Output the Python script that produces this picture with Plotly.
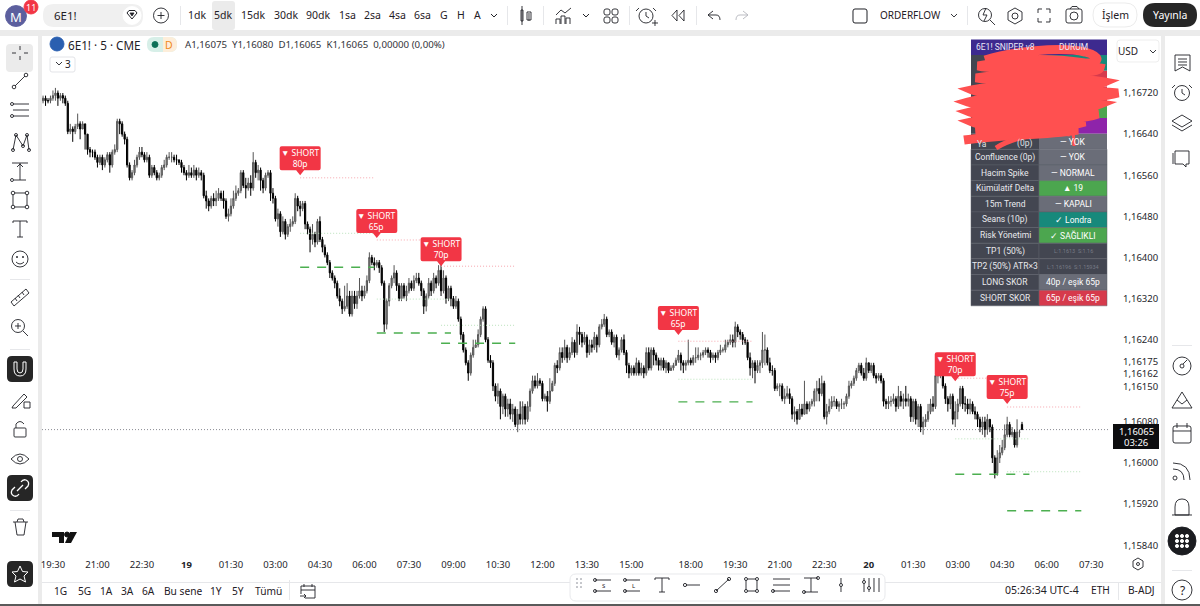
import re
import plotly.graph_objects as go

# ---- chart values (prices as 1.xxxxx, stored in 1e-5 above 1.0) ----
opens = [
16705,16710,16705,16705,16710,16715,16720,16710,16715,16710,
16700,16645,16650,16645,16655,16660,16650,16660,16640,16610,
16605,16605,16595,16585,16595,16580,16590,16600,16580,16605,
16610,16665,16660,16640,16630,16580,16555,16565,16580,16595,
16605,16600,16590,16595,16560,16575,16565,16555,16560,16575,
16580,16595,16595,16595,16590,16590,16585,16575,16565,16560,
16565,16560,16570,16560,16565,16560,16520,16510,16500,16515,
16510,16515,16525,16515,16510,16480,16485,16500,16515,16525,
16530,16565,16540,16535,16545,16535,16585,16565,16570,16550,
16535,16560,16565,16525,16515,16475,16485,16450,16470,16445,
16460,16465,16470,16515,16500,16495,16505,16465,16455,16435,
16445,16430,16470,16435,16420,16405,16390,16370,16360,16350,
16325,16315,16300,16305,16325,16290,16325,16310,16325,16335,
16325,16335,16355,16400,16390,16385,16390,16380,16350,16270,
16315,16345,16360,16370,16345,16320,16345,16325,16335,16350,
16340,16355,16360,16350,16335,16305,16325,16350,16335,16360,
16350,16375,16335,16360,16320,16340,16320,16305,16315,16280,
16250,16220,16195,16175,16210,16225,16230,16250,16280,16300,
16240,16200,16195,16150,16130,16140,16110,16130,16105,16115,
16095,16105,16075,16095,16085,16110,16085,16110,16140,16160,
16150,16160,16155,16125,16130,16120,16140,16155,16190,16185,
16215,16205,16225,16205,16215,16235,16215,16255,16250,16235,
16245,16215,16230,16225,16245,16230,16265,16270,16280,16250,
16255,16235,16245,16210,16220,16240,16215,16190,16175,16185,
16175,16195,16175,16185,16175,16215,16185,16220,16210,16200,
16190,16200,16185,16195,16180,16185,16190,16200,16210,16195,
16190,16195,16200,16195,16205,16205,16210,16210,16215,16220,
16215,16205,16210,16205,16215,16220,16220,16230,16235,16240,
16235,16265,16255,16250,16240,16235,16205,16185,16195,16180,
16190,16195,16220,16220,16195,16180,16180,16145,16150,16150,
16125,16130,16135,16125,16095,16100,16085,16105,16095,16115,
16105,16115,16120,16140,16145,16135,16155,16090,16100,16110,
16120,16120,16110,16115,16115,16115,16130,16150,16155,16165,
16180,16190,16175,16165,16195,16180,16190,16170,16165,16170,
16160,16120,16115,16120,16120,16125,16110,16130,16120,16125,
16120,16125,16090,16120,16085,16110,16070,16080,16085,16100,
16115,16110,16170,16170,16185,16150,16125,16115,16130,16085,
16100,16115,16145,16115,16115,16105,16115,16100,16095,16085,
16070,16080,16065,16085,16070,16010,15980,16010,16020,16030,
16055,16075,16055,16060,16035,16060,16075]
highs = [
16715,16715,16710,16715,16725,16730,16725,16720,16720,16715,
16705,16660,16655,16660,16680,16665,16665,16660,16640,16615,
16610,16610,16600,16600,16600,16595,16605,16605,16610,16620,
16670,16670,16665,16645,16635,16585,16570,16590,16600,16615,
16615,16605,16605,16600,16580,16580,16570,16565,16580,16590,
16600,16605,16605,16600,16600,16590,16590,16580,16570,16580,
16575,16580,16575,16575,16570,16565,16530,16515,16520,16525,
16530,16535,16530,16530,16515,16495,16515,16530,16540,16535,
16570,16570,16555,16555,16560,16605,16590,16580,16575,16555,
16565,16570,16570,16535,16520,16495,16490,16480,16475,16465,
16475,16480,16525,16520,16510,16510,16510,16470,16460,16465,
16450,16475,16480,16440,16425,16410,16395,16375,16365,16355,
16340,16320,16345,16350,16335,16335,16335,16335,16360,16345,
16345,16365,16410,16405,16400,16395,16395,16385,16355,16320,
16350,16365,16385,16375,16350,16350,16350,16345,16360,16355,
16365,16370,16370,16355,16340,16330,16360,16355,16370,16365,
16385,16385,16375,16365,16345,16345,16325,16325,16320,16285,
16255,16225,16200,16215,16240,16240,16260,16285,16305,16305,
16245,16210,16200,16155,16155,16145,16135,16135,16125,16125,
16115,16110,16105,16120,16120,16115,16120,16145,16170,16170,
16175,16165,16160,16135,16140,16165,16160,16195,16200,16225,
16225,16240,16230,16225,16245,16240,16270,16265,16255,16255,
16250,16240,16240,16255,16250,16270,16280,16290,16285,16260,
16260,16250,16250,16225,16245,16250,16220,16195,16190,16190,
16205,16200,16195,16190,16225,16225,16225,16225,16215,16205,
16205,16205,16200,16195,16190,16195,16205,16220,16215,16200,
16200,16240,16205,16210,16225,16225,16215,16220,16225,16225,
16220,16215,16215,16220,16230,16225,16240,16240,16250,16250,
16275,16270,16260,16255,16245,16240,16215,16200,16200,16200,
16200,16255,16250,16225,16205,16190,16185,16155,16155,16155,
16145,16150,16145,16130,16110,16105,16115,16115,16160,16120,
16120,16125,16145,16160,16165,16170,16160,16115,16125,16130,
16130,16125,16120,16125,16120,16135,16160,16160,16170,16185,
16195,16195,16185,16205,16195,16195,16195,16175,16175,16175,
16165,16125,16130,16130,16135,16130,16150,16140,16135,16150,
16135,16130,16125,16125,16115,16115,16090,16095,16115,16125,
16130,16175,16190,16210,16195,16155,16130,16135,16135,16120,
16125,16150,16150,16130,16125,16125,16120,16110,16100,16090,
16090,16090,16095,16085,16075,16015,16025,16035,16045,16075,
16090,16080,16070,16065,16085,16065,16080]
lows = [
16700,16695,16700,16700,16705,16705,16695,16705,16700,16695,
16640,16640,16625,16640,16650,16630,16650,16610,16600,16595,
16595,16590,16575,16580,16570,16575,16585,16565,16575,16600,
16605,16640,16635,16620,16575,16550,16550,16560,16575,16590,
16595,16585,16585,16555,16555,16560,16550,16550,16555,16570,
16575,16590,16585,16585,16580,16580,16565,16560,16550,16555,
16555,16555,16550,16555,16550,16515,16495,16490,16495,16500,
16500,16510,16510,16495,16475,16470,16480,16495,16510,16520,
16525,16535,16515,16530,16520,16530,16555,16550,16530,16525,
16530,16555,16510,16505,16470,16460,16440,16445,16435,16440,
16450,16460,16465,16490,16480,16490,16455,16445,16410,16425,
16420,16425,16430,16410,16400,16385,16360,16355,16340,16320,
16305,16290,16295,16300,16285,16285,16300,16300,16320,16315,
16320,16330,16350,16385,16375,16380,16370,16345,16255,16260,
16305,16340,16350,16335,16315,16315,16320,16315,16330,16335,
16335,16350,16345,16325,16290,16295,16320,16325,16330,16340,
16345,16325,16330,16310,16315,16305,16300,16300,16275,16240,
16215,16190,16160,16170,16205,16225,16225,16245,16275,16235,
16195,16185,16140,16120,16115,16085,16095,16090,16090,16085,
16080,16070,16060,16075,16075,16075,16080,16100,16135,16145,
16145,16150,16120,16120,16100,16115,16150,16150,16175,16180,
16195,16200,16195,16200,16210,16205,16210,16230,16225,16230,
16205,16210,16215,16220,16215,16225,16260,16265,16245,16245,
16230,16225,16205,16200,16215,16210,16175,16165,16170,16170,
16170,16170,16170,16165,16170,16180,16180,16190,16190,16180,
16180,16180,16175,16175,16180,16180,16190,16195,16180,16175,
16180,16190,16190,16190,16195,16200,16200,16205,16210,16205,
16195,16200,16195,16200,16210,16215,16215,16225,16230,16225,
16225,16245,16240,16230,16230,16200,16170,16165,16155,16175,
16175,16185,16190,16190,16175,16170,16140,16140,16130,16120,
16115,16125,16115,16085,16080,16075,16085,16090,16095,16095,
16100,16110,16110,16120,16120,16130,16085,16075,16095,16105,
16110,16105,16100,16105,16105,16110,16125,16145,16150,16160,
16175,16170,16160,16160,16175,16175,16165,16155,16160,16155,
16110,16105,16105,16110,16115,16100,16105,16110,16105,16110,
16110,16080,16080,16075,16070,16060,16055,16070,16080,16095,
16100,16105,16155,16165,16145,16115,16100,16105,16075,16070,
16085,16110,16105,16100,16095,16095,16095,16085,16070,16060,
16055,16050,16055,16060,16000,15970,15975,16000,16015,16025,
16050,16050,16050,16030,16030,16050,16065]
closes = [
16710,16705,16705,16710,16715,16720,16710,16715,16710,16700,
16645,16650,16645,16655,16660,16650,16660,16640,16610,16605,
16605,16595,16585,16595,16580,16590,16600,16580,16605,16610,
16665,16660,16640,16630,16580,16555,16565,16580,16595,16605,
16600,16590,16595,16560,16575,16565,16555,16560,16575,16580,
16595,16595,16595,16590,16590,16585,16575,16565,16560,16565,
16560,16570,16560,16565,16560,16520,16510,16500,16515,16510,
16515,16525,16515,16510,16480,16485,16500,16515,16525,16530,
16565,16540,16535,16545,16535,16585,16565,16570,16550,16535,
16560,16565,16525,16515,16475,16485,16450,16470,16445,16460,
16465,16470,16515,16500,16495,16505,16465,16455,16435,16445,
16430,16470,16435,16420,16405,16390,16370,16360,16350,16325,
16315,16300,16305,16325,16290,16325,16310,16325,16335,16325,
16335,16355,16400,16390,16385,16390,16380,16350,16270,16315,
16345,16360,16370,16345,16320,16345,16325,16335,16350,16340,
16355,16360,16350,16335,16305,16325,16350,16335,16360,16350,
16375,16335,16360,16320,16340,16320,16305,16315,16280,16250,
16220,16195,16175,16210,16225,16230,16250,16280,16300,16240,
16200,16195,16150,16130,16140,16110,16130,16105,16115,16095,
16105,16075,16095,16085,16110,16085,16110,16140,16160,16150,
16160,16155,16125,16130,16120,16140,16155,16190,16185,16215,
16205,16225,16205,16215,16235,16215,16255,16250,16235,16245,
16215,16230,16225,16245,16230,16265,16270,16280,16250,16255,
16235,16245,16210,16220,16240,16215,16190,16175,16185,16175,
16195,16175,16185,16175,16215,16185,16220,16210,16200,16190,
16200,16185,16195,16180,16185,16190,16200,16210,16195,16190,
16195,16200,16195,16205,16205,16210,16210,16215,16220,16215,
16205,16210,16205,16215,16220,16220,16230,16235,16240,16235,
16265,16255,16250,16240,16235,16205,16185,16195,16180,16190,
16195,16220,16220,16195,16180,16180,16145,16150,16150,16125,
16130,16135,16125,16095,16100,16085,16105,16095,16115,16105,
16115,16120,16140,16145,16135,16155,16090,16100,16110,16120,
16120,16110,16115,16115,16115,16130,16150,16155,16165,16180,
16190,16175,16165,16195,16180,16190,16170,16165,16170,16160,
16120,16115,16120,16120,16125,16110,16130,16120,16125,16120,
16125,16090,16120,16085,16110,16070,16080,16085,16100,16115,
16110,16170,16170,16185,16150,16125,16115,16130,16085,16100,
16115,16145,16115,16115,16105,16115,16100,16095,16085,16070,
16080,16065,16085,16070,16010,15980,16010,16020,16030,16055,
16075,16055,16060,16035,16060,16060,16065]

time_tick_bars = [5,23,41,59,77,95,113,131,149,167,185,203,221,239,263,281,299,317,335,353,371,389,407,425]
time_tick_text = ["19:30","21:00","22:30","<b>19</b>","01:30","03:00","04:30","06:00","07:30","09:00","10:30","12:00",
                  "13:30","15:00","18:00","19:30","21:00","22:30","<b>20</b>","01:30","03:00","04:30","06:00","07:30"]
price_tick_vals = [16720,16640,16560,16480,16400,16320,16240,16080,16000,15920,15840]
signal_bar   = [105,136,162,258,370,391]
signal_score = [80,65,70,65,70,75]
signal_tip   = [16560,16438,16383,16249,16159,16115]
stop_level   = [16555,16434,16383,16237,16165,16109]
tp1_level    = [16447,16319,16268,16163,16047,15983]
tp2_level    = [16381,16253,16233,16119,15978,15907]
level_span = 30
last_price = 16065

table_rows = ["Confluence (0p)","Hacim Spike","Kümülatif Delta","15m Trend","Seans (10p)","Risk Yönetimi",
              "TP1 (50%)","TP2 (50%) ATR×3","LONG SKOR","SHORT SKOR"]
table_vals = ["— YOK","— NORMAL","▲ 19","— KAPALI","✓ Londra","✓ SAĞLIKLI",
              "L:1.1613  S:1.16","L:1.16196  S:1.15934","40p / eşik 65p","65p / eşik 65p"]
table_cols = ["#6a6d78","#6a6d78","#4ca64f","#6a6d78","#17897b","#4ca64f","#434651","#434651","#6a6d78","#d63a4c"]
intervals = ["1dk","5dk","15dk","30dk","90dk","1sa","2sa","4sa","6sa","G","H","A"]
ranges = ["1G","5G","1A","3A","6A","Bu sene","1Y","5Y","Tümü"]

assert len(opens)==len(highs)==len(lows)==len(closes), (len(opens),len(highs),len(lows),len(closes))

W, H = 1200, 606
FONT = "Noto Sans"
INK = "#1f2026"
GAP = "#ebebeb"
def price(v): return 1 + v * 1e-5
def X(p): return p / W
def Y(p): return 1 - p / H

shapes, notes = [], []

def path_px(d):
    toks = re.findall(r"[A-Za-z]|-?\d+\.?\d*", d)
    out, is_x = [], True
    for t in toks:
        if t.isalpha():
            out.append(t); is_x = True
        else:
            out.append(f"{X(float(t)):.5f}" if is_x else f"{Y(float(t)):.5f}")
            is_x = not is_x
    return " ".join(out)
def P(d, color=INK, w=0.9, fill=None, layer="above"):
    s = dict(type="path", xref="paper", yref="paper", path=path_px(d), layer=layer, line=dict(color=color, width=w))
    if fill: s["fillcolor"] = fill
    if w == 0: s["line"] = dict(width=0)
    shapes.append(s)
def R(x0,y0,x1,y1,fill=None,color=None,w=0,layer="above"):
    s = dict(type="rect", xref="paper", yref="paper", x0=X(x0), x1=X(x1), y0=Y(y0), y1=Y(y1), layer=layer, line=dict(width=w, color=color or "rgba(0,0,0,0)"))
    if fill: s["fillcolor"] = fill
    shapes.append(s)
def RR(x0,y0,x1,y1,r,fill=None,color=None,w=0,layer="above"):
    d = (f"M {x0+r} {y0} L {x1-r} {y0} Q {x1} {y0} {x1} {y0+r} L {x1} {y1-r} Q {x1} {y1} {x1-r} {y1} "
         f"L {x0+r} {y1} Q {x0} {y1} {x0} {y1-r} L {x0} {y0+r} Q {x0} {y0} {x0+r} {y0} Z")
    P(d, color or "rgba(0,0,0,0)", w, fill, layer)
def C(cx,cy,r,fill=None,color=INK,w=0.9):
    s = dict(type="circle", xref="paper", yref="paper", x0=X(cx-r), x1=X(cx+r), y0=Y(cy-r), y1=Y(cy+r), layer="above",
             line=dict(color=color, width=w))
    if fill: s["fillcolor"] = fill
    shapes.append(s)
def T(x,y,text,size=11,color=INK,anchor="center",family=FONT):
    notes.append(dict(xref="paper", yref="paper", x=X(x), y=Y(y), text=text, showarrow=False, xanchor=anchor, yanchor="middle",
                      font=dict(size=size, color=color, family=family), borderpad=0))

# ---- page structure ----
R(0,30,W,36,GAP,layer="below")
R(38,36,42,H,GAP,layer="below")
R(1161,36,1165,H,GAP,layer="below")
R(42,582,1161,583,"#e6e7ea",layer="below")
R(0,604,W,606,"#5a5a5a")

# ---- top toolbar ----
C(16,16,10.5,"#5c5f9e","#5c5f9e"); T(16,16.5,"M",13,"#ffffff")
C(31,7,7,"#f23645","#f23645"); T(31,7.5,"11",9,"#ffffff")
RR(43,4,143,27,11,"#f0f0f0")
T(53,15.5,"6E1!",11.5,INK,"left")
C(132,15.5,9,"#ffffff","#ffffff")
P("M 127 13 L 129 10.5 L 135 10.5 L 137 13 L 132 19 Z",INK,1); P("M 130 13 L 134 13 L 132 16 Z",INK,0.8,INK)
C(161,15.5,7.5); P("M 157.5 15.5 L 164.5 15.5 M 161 12 L 161 19")
R(180,6,181,25,"#e6e7ea")
RR(212,1,235,30,3,"#ebebeb")
for lab,x in zip(intervals,[197,223,253,286,318,347,372,397,422,444,461,477]):
    T(x,15.5,lab,10.5)
P("M 491 14 L 494 17 L 497 14",INK,1)
R(507,6,508,25,"#e6e7ea")
P("M 523 10 L 523 21 L 521 21 L 521 10 Z M 522 6 L 522 25 M 529 13 L 529 21 M 527 12 L 531 12 L 531 20 L 527 20 Z")
R(543,6,544,25,"#e6e7ea")
P("M 556 15 L 561 10 L 565 13 L 571 8 M 556 24 L 556 19 L 560 19 L 560 24 M 561 24 L 561 16 L 565 16 L 565 24 M 566 24 L 566 18 L 570 18 L 570 24")
P("M 583 14 L 586 17 L 589 14",INK,1)
for xx in (605,613):
    for yy in (10,18):
        RR(xx-1,yy-1,xx+5,yy+5,2,None,INK,0.9)
R(629,6,630,25,"#e6e7ea")
C(646,16,7); P("M 646 12 L 646 16 L 649 18 M 639 8 L 636 11 M 653 8 L 656 11 M 652 23 L 658 23 M 655 20 L 655 26")
P("M 677 10 L 672 15.5 L 677 21 Z M 684 10 L 679 15.5 L 684 21 Z")
R(696,6,697,25,"#e6e7ea")
P("M 713 11 L 708 15 L 713 19 M 708 15 L 716 15 Q 720 15 720 20",INK)
P("M 743 11 L 748 15 L 743 19 M 748 15 L 740 15 Q 736 15 736 20","#b4b6bc")
RR(853,9,867,23,2,None,INK,1)
T(910,15.5,"ORDERFLOW",10)
P("M 951 14 L 954 17 L 957 14")
R(967,6,968,25,"#e6e7ea")
C(985,15,6.5); P("M 990 20 L 995 25 M 986 8 L 983 15 L 987 15 L 984 21")
P("M 1015 8 L 1022 12 L 1022 20 L 1015 24 L 1008 20 L 1008 12 Z"); C(1015,16,3)
P("M 1038 13 L 1038 9 L 1042 9 M 1046 9 L 1050 9 L 1050 13 M 1050 18 L 1050 22 L 1046 22 M 1042 22 L 1038 22 L 1038 18")
RR(1066,9,1082,23,2,None,INK,0.9); C(1074,16,4); P("M 1070 9 L 1072 6.5 L 1077 6.5 L 1079 9")
RR(1093,3,1137,27,12,"#ffffff","#ececec",1)
T(1115,15.5,"İşlem",10.5)
RR(1143,3,1197,27,12,"#262626")
T(1170,15.5,"Yayınla",10.5,"#ffffff")

# ---- legend row ----
C(57,44,7,"#2a5fb0","#2a5fb0")
T(67,44.5,"6E1! · 5 · CME",11.7,INK,"left")
RR(147,37,177,52,7,"#d7efe8"); P("M 163 37 L 170 37 Q 177 37 177 44 L 177 45 Q 177 52 170 52 L 163 52 Z","rgba(0,0,0,0)",0,"#fdeeda")
C(155,44.5,3,"#0c6f57","#0c6f57"); T(169,44.5,"D",10.5,"#f08a1d")
T(184,44.5,"A1,16075  Y1,16080  D1,16065  K1,16065  0,00000 (0,00%)",9.7,"#33343a","left")
RR(50,57,75,72,2,"#ffffff","#e3e4e8",1)
P("M 56 62 L 59 65 L 62 62"); T(68,64.5,"3",10)

# ---- signal table ----
ROW = 15.65
TF = "Roboto"
R(971,39.5,1107,55,"#3d2a8f")
R(971,55,1039,133.7,"#434651")
for y0,col in zip((55,70.7,86.7,102.3,118),("#17897b","#d63a4c","#d63a4c","#4ca64f","#8e24aa")):
    R(1039,y0,1107,y0+15.8,col)
R(971,133.7,1039,149.3,"#434651"); R(1039,133.7,1107,149.3,"#6a6d78")
T(1005,47,"6E1! SNIPER v8",8.5,"#e8e6f5",family=TF); T(1073,47,"DURUM",8.5,"#e8e6f5",family=TF)
T(1033,143.5,"(0p)",8.5,"#dfe0e4","right",TF)
T(982,143.5,"Ya",8.5,"#dfe0e4",family=TF)
T(1073,142,"— YOK",8.5,"#ffffff",family=TF)
for k,(lab,val,col) in enumerate(zip(table_rows,table_vals,table_cols)):
    y0 = 149.3 + k*ROW
    R(971,y0,1039,y0+ROW,"#434651","#5d606b",0.5)
    R(1039,y0,1107,y0+ROW,col,"#5d606b",0.5)
    T(1005,y0+ROW/2,lab,8.5,"#e9eaee",family=TF)
    faint = lab.startswith("TP")
    T(1073,y0+ROW/2,val,5.5 if faint else 8.5,"#777a85" if faint else "#ffffff",family=TF)

# ---- red scribble over the table ----
SCR = "#ff5050"
P("M 985 60 C 1010 52 1060 46 1085 52 C 1100 56 1102 62 1085 63 C 1050 58 1020 58 978 66 "
  "C 1000 72 1060 62 1100 68 C 1098 76 1030 70 976 78 C 1000 84 1060 74 1104 82 "
  "C 1080 92 1020 80 972 90 C 990 98 1060 86 1106 92 L 1118 93 C 1090 102 1010 90 968 102 "
  "C 990 110 1060 98 1100 104 C 1075 114 1010 102 970 112 C 990 120 1050 108 1098 114 "
  "C 1070 124 1010 114 972 122 C 990 130 1050 118 1085 122 C 1050 132 1010 124 976 132 "
  "C 1000 134 1040 126 1078 130 C 1040 136 1005 134 964 140",SCR,9,None)
P("M 1073 128 L 1074 146",SCR,3)
P("M 996 148 C 1015 136 1050 130 1070 134",SCR,5)

# ---- USD ----
RR(1117,40,1159,62,3,"#ffffff","#eeeeee",1)
T(1128,51,"USD",10); P("M 1150 50 L 1153 53 L 1156 50")

# ---- extra price labels (squeezed by the price scale) ----
for txt,yy in (("1,16175",361),("1,16162",373.5),("1,16150",386)):
    T(1122,yy,txt,9.5,"#24252b","left")

# ---- price tag ----
R(1113,424,1159,449,"#0d0d0f")
T(1136,431,"1,16065",9.5,"#ffffff"); T(1136,442.5,"03:26",9.5,"#ffffff")

# ---- TradingView logo ----
P("M 52 532 L 64 532 L 64 543 L 59 543 L 59 537 L 52 537 Z",INK,0,"#111111")
C(67,534.5,2.5,"#111111","#111111")
P("M 70 532 L 77 532 L 71 543 L 65 543 Z",INK,0,"#111111")

# ---- left toolbar ----
RR(6,44,33,72,4,"#ebebeb")
P("M 20 46 L 20 50 M 20 56 L 20 60 M 12 53 L 16 53 M 24 53 L 28 53")
P("M 15 86 L 25 76"); C(14,87,1.8); C(26,75,1.8)
P("M 13 104 L 29 104 M 13 110 L 29 110 M 13 116 L 29 116"); C(12,104,1.5); C(12,116,1.5)
P("M 13 150 L 16 135 L 23 146 L 27 135 L 29 150"); C(13,150,1.5); C(16,135,1.5); C(23,146,1.5); C(27,135,1.5); C(29,150,1.5)
P("M 12 163 L 28 163 M 20 163 L 20 180 M 14 180 L 26 180 M 17 167 L 20 164 L 23 167"); C(12,180,1.5)
P("M 13 193 L 27 193 L 27 207 L 13 207 Z"); C(13,193,1.8,"#ffffff"); C(27,193,1.8,"#ffffff"); C(13,207,1.8,"#ffffff"); C(27,207,1.8,"#ffffff")
P("M 13 223 L 13 221 L 27 221 L 27 223 M 20 221 L 20 237 M 17 237 L 23 237")
C(20,259,8); C(17,257,0.6,INK); C(23,257,0.6,INK); P("M 16 262 Q 20 266 24 262")
P("M 11 302 L 26 289 L 29 293 L 14 306 Z M 15 298 L 17 301 M 18 295 L 20 298 M 22 292 L 24 295")
C(18,326,6.5); P("M 23 331 L 28 336 M 15 326 L 21 326 M 18 323 L 18 329")
RR(7,356,33,382,5,"#262626")
P("M 14 362 L 14 369 Q 14 376 20 376 Q 26 376 26 369 L 26 362 L 23 362 L 23 369 Q 23 373 20 373 Q 17 373 17 369 L 17 362 Z","#ffffff",1)
P("M 13 406 L 24 394 L 27 397 L 16 408 L 12 408 Z"); P("M 24 402 L 30 402 L 30 408 L 24 408 Z")
RR(14,428,26,437,1,None,INK,0.9); P("M 16 428 L 16 424 Q 20 419 24 424")
P("M 11 459 Q 20 449 29 459 Q 20 469 11 459 Z"); C(20,459,2.5)
RR(7,475,33,501,5,"#262626")
P("M 17 491 L 23 485 M 15 487 L 12 490 Q 10 494 14 496 Q 17 497 19 494 M 25 489 L 28 486 Q 30 482 26 480 Q 23 479 21 482","#ffffff",1.3)
R(10,279,30,280,"#e6e7ea"); R(10,349,30,350,"#e6e7ea"); R(10,510,30,511,"#e6e7ea")
P("M 15 522 L 17 535 L 24 535 L 26 522 M 13 522 L 28 522 M 17 522 L 18 519 L 23 519 L 24 522")
RR(7,561,33,587,5,"#262626")
P("M 20 566 L 22.5 571.5 L 28 572 L 24 576 L 25.5 582 L 20 579 L 14.5 582 L 16 576 L 12 572 L 17.5 571.5 Z","#ffffff",1)

# ---- right toolbar ----
P("M 1175 55 L 1190 55 L 1190 71 L 1182.5 67 L 1175 71 Z M 1178 59 L 1187 59 M 1178 62 L 1187 62 M 1178 65 L 1187 65")
C(1182,93,7.5); P("M 1182 89 L 1182 93 L 1185 95 M 1175 85 L 1172 88 M 1189 85 L 1192 88")
P("M 1182 115 L 1192 121 L 1182 127 L 1172 121 Z M 1172 125 L 1182 131 L 1192 125")
P("M 1175 151 L 1189 151 L 1189 164 L 1186 164 L 1186 167 L 1183 164 L 1175 164 Z M 1173 153 L 1173 164")
R(1172,345,1192,346,"#e6e7ea")
C(1182,366,9); C(1182,366,2); P("M 1183 364 L 1187 360")
P("M 1182 392 L 1192 408 L 1172 408 Z M 1177 400 L 1182 404 L 1187 400")
RR(1173,426,1191,443,2,None,INK,0.9); P("M 1173 431 L 1191 431 M 1177 423 L 1177 428 M 1187 423 L 1187 428")
P("M 1173 463 Q 1190 463 1190 480 M 1173 469 Q 1184 469 1184 480"); C(1175,478,2)
P("M 1175 515 L 1175 507 Q 1175 499 1182 499 Q 1189 499 1189 507 L 1189 515 Z M 1172 515 L 1192 515")
C(1182,541,14,"#1b1c20","#1b1c20")
for dx in (-5,0,5):
    for dy in (-5,0,5):
        C(1182+dx,541+dy,1.6,"#ffffff","#ffffff")
R(1172,570,1192,571,"#e6e7ea")
C(1182,590,10); T(1182,590,"?",12)

# ---- bottom bar ----
for lab,x in zip(ranges,[60,84,106,127,148,183,216,238,268]):
    T(x,591,lab,10.2)
R(289,580,290,600,"#e6e7ea")
P("M 301 594 L 301 586 L 315 586 L 315 598 L 305 598 M 301 590 L 315 590 M 304 584 L 304 587 M 312 584 L 312 587 M 300 596 L 306 596 M 304 594 L 306 596 L 304 598")
T(1042,590,"05:26:34 UTC-4",10.5); T(1100,590,"ETH",10.2); T(1141,590,"B-ADJ",10.2)
R(1118,582,1119,600,"#e6e7ea")
P("M 1138 558 L 1143 561 L 1143 567 L 1138 570 L 1133 567 L 1133 561 Z"); C(1138,564,1.5)

# ---- floating drawing bar ----
RR(570,574,885,601,6,"#ffffff","#e8e9ec",1)
for yy in (579,583,587):
    C(577,yy,0.6,"#b0b2b8","#b0b2b8"); C(581,yy,0.6,"#b0b2b8","#b0b2b8")
P("M 595 580 L 611 580 M 595 591 L 611 591"); C(595,580,1.5); C(595,591,1.5); T(604,586,"S",6)
P("M 625 580 L 640 580 M 625 591 L 640 591"); C(625,580,1.5); C(625,591,1.5); T(633,586,"L",6)
P("M 655 580 L 655 578 L 669 578 L 669 580 M 662 578 L 662 592 M 659 592 L 665 592")
P("M 686 585 L 700 585"); C(685,585,1.6)
P("M 716 591 L 729 579"); C(716,591,1.6); C(729,579,1.6)
P("M 746 579 L 757 579 L 757 591 L 746 591 Z"); C(746,579,1.5,"#fff"); C(757,579,1.5,"#fff"); C(746,591,1.5,"#fff"); C(757,591,1.5,"#fff")
P("M 773 579 L 790 579 M 773 585 L 790 585 M 773 591 L 790 591"); C(773,591,1.5)
P("M 804 578 L 818 578 M 811 578 L 811 592 M 804 592 L 818 592"); C(804,592,1.5); C(818,578,1.5)
P("M 841 578 L 841 592"); C(841,585,1.5,"#fff")
P("M 864 578 L 864 592 M 869 578 L 869 592 M 874 578 L 874 592 M 879 578 L 879 592"); C(864,582,1.5,"#fff"); C(869,588,1.5,"#fff")

# ---- figure ----
bars = list(range(1, len(closes)+1))
fig = go.Figure()

def level_trace(level, color, width, dash):
    xs, ys = [], []
    for b, v in zip(signal_bar, level):
        xs += [b, b + level_span, None]
        ys += [price(v), price(v), None]
    fig.add_trace(go.Scatter(x=xs, y=ys, mode="lines", line=dict(color=color, width=width, dash=dash), hoverinfo="skip", showlegend=False))

level_trace(stop_level, "#f6a5ad", 1, "1px,2px")
level_trace(tp1_level, "#b9e2bb", 1, "1px,2px")
level_trace(tp2_level, "#4caf50", 1.4, "9px,8px")

fig.add_trace(go.Candlestick(
    x=bars,
    open=[price(v) for v in opens], high=[price(v) for v in highs],
    low=[price(v) for v in lows], close=[price(v) for v in closes],
    increasing=dict(line=dict(color="#555555", width=1), fillcolor="#8c8c8c"),
    decreasing=dict(line=dict(color="#000000", width=1), fillcolor="#000000"),
    whiskerwidth=0, showlegend=False, hoverinfo="skip"))

for b, s, v in zip(signal_bar, signal_score, signal_tip):
    shapes.append(dict(type="path", xref="x", yref="y", xsizemode="pixel", ysizemode="pixel",
        xanchor=b, yanchor=price(v), layer="above", fillcolor="#f23645", line=dict(width=0),
        path="M 0 0 L -4 5 L -18.5 5 Q -20.5 5 -20.5 7 L -20.5 27 Q -20.5 29 -18.5 29 L 18.5 29 Q 20.5 29 20.5 27 L 20.5 7 Q 20.5 5 18.5 5 L 4 5 Z"))
    notes.append(dict(xref="x", yref="y", x=b, y=price(v), yshift=17, text=f"▼ SHORT<br>{s}p", showarrow=False,
                      xanchor="center", yanchor="middle", font=dict(size=8.5, color="#ffffff", family=FONT), borderpad=0))

shapes.append(dict(type="line", xref="paper", yref="y", x0=X(42), x1=X(1110), y0=price(last_price), y1=price(last_price),
                   layer="below", line=dict(color="#8a8c93", width=1, dash="1px,2px")))

fig.update_layout(
    width=W, height=H, margin=dict(l=0, r=0, t=0, b=0, autoexpand=False),
    paper_bgcolor="#ffffff", plot_bgcolor="rgba(0,0,0,0)",
    font=dict(family=FONT, size=11, color="#24252b"), showlegend=False, hovermode=False,
    xaxis=dict(domain=[X(42), X(1110)], range=[0.57, 432.6], showgrid=False, zeroline=False, showline=False,
               tickmode="array", tickvals=time_tick_bars, ticktext=time_tick_text, ticks="", ticklabelstandoff=1,
               tickfont=dict(size=9.5, family=FONT, color="#24252b"), rangeslider=dict(visible=False), fixedrange=True),
    yaxis=dict(domain=[Y(556), Y(36)], range=[price(15819), price(16831)], side="right", showgrid=False, zeroline=False, showline=False,
               tickmode="array", tickvals=[price(v) for v in price_tick_vals],
               ticktext=[f"{price(v):.5f}".replace(".", ",") for v in price_tick_vals],
               ticks="", ticklabelstandoff=12, tickfont=dict(size=9.5, family=FONT, color="#24252b"), fixedrange=True),
    shapes=shapes, annotations=notes)

fig.write_html("out.html", config=dict(displayModeBar=False),
               post_script="document.body.style.margin='0';document.documentElement.style.overflow='hidden';")
